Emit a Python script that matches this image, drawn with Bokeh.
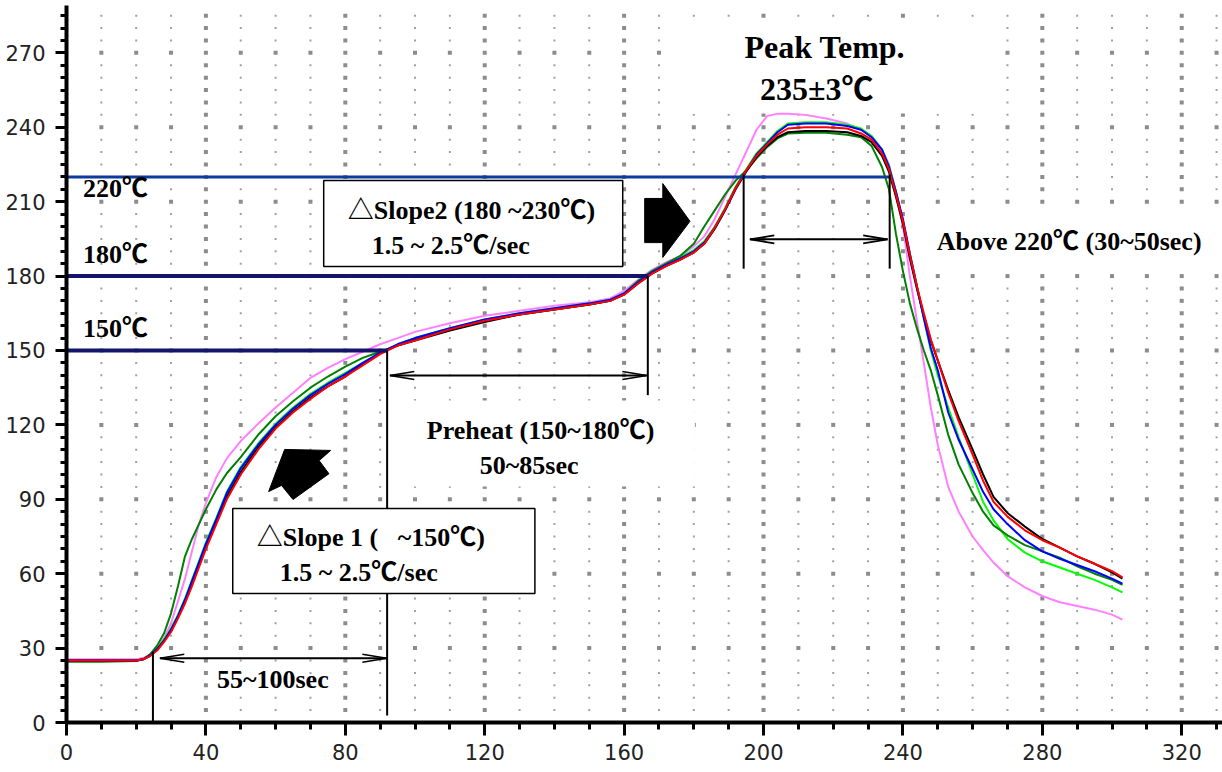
from bokeh.plotting import figure
from bokeh.models import Range1d, SingleIntervalTicker
from bokeh.core.properties import value
from bokeh.embed import file_html
from bokeh.resources import INLINE
import numpy as np

# ---- reflow temperature profiles (time in sec, temperature in degC) ----
t_sec = [0, 10, 20, 22, 24, 26, 28, 30, 32, 34,
         36, 38, 40, 43, 46, 50, 55, 60, 65, 70,
         75, 80, 85, 90, 95, 100, 110, 120, 130, 140,
         150, 156, 160, 164, 168, 172, 176, 180, 183, 186,
         189, 192, 195, 198, 201, 204, 207, 212, 218, 224,
         228, 231, 234, 236, 238, 240, 242, 244, 246, 248,
         250, 253, 256, 260, 263, 266, 270, 275, 280, 285,
         290, 295, 300, 303]

temp_black = [25, 25, 25, 25.5, 27, 29.5, 33, 37, 42.5, 49,
              56, 63.5, 71, 81, 91, 101, 111, 119, 125.5, 131,
              135.5, 139.5, 144.5, 149, 152, 154, 158, 161.5, 164.5, 166.5,
              168.5, 170, 172.5, 177, 181, 184, 186.5, 189.5, 193, 199,
              206.5, 215, 222, 228, 232.5, 236, 238, 238.5, 238.5, 238,
              236.5, 234, 228.5, 222, 212, 201, 187, 175, 164, 154,
              146, 134, 123, 110, 100, 91, 84.5, 79, 74, 70.5,
              67, 64, 60.5, 58]

temp_red = [25, 25, 25, 25.5, 26.8, 29, 32.5, 36.5, 42, 48,
            55, 62.5, 70, 80, 90, 100, 110, 118.5, 125, 130.5,
            135.5, 139.5, 144, 148.5, 152, 154, 158.5, 162, 164.5, 166.5,
            168.5, 170, 172.5, 177, 181, 184, 186.5, 189.5, 193, 199.5,
            207, 215.5, 222.5, 228.5, 233, 237, 239.5, 240, 240, 239.5,
            237.5, 235, 229.5, 223, 213, 202, 188.5, 176, 165, 154.5,
            146, 133, 121.5, 108, 97.5, 89, 83, 77.5, 73.5, 70.5,
            67, 64, 61, 58.5]

temp_blue = [25, 25, 25, 25.5, 27, 29.5, 33, 37.5, 43, 49.5,
             57, 64.5, 72, 82, 92.5, 102.5, 112, 120, 126.5, 132,
             136.5, 140.5, 145, 149, 152.5, 155, 159, 162.5, 165, 167,
             169, 170.5, 173, 177.5, 181.5, 184.5, 187, 190, 193.5, 199.5,
             207, 215.5, 222.5, 229, 233.5, 238, 241, 241.5, 241.5, 240.5,
             239, 236, 231, 224, 214, 203, 189, 176, 163, 151,
             142, 125, 114, 102, 93, 86, 80, 73.5, 69, 66,
             63.5, 61, 58, 56]

temp_lime = [25, 25, 25, 25.5, 27.2, 30, 33.5, 38, 43.5, 50,
             57.5, 65, 72.5, 82.5, 93, 103, 112.5, 120.5, 127, 132.5,
             137, 141, 145, 149, 152.5, 155, 159, 162.5, 165, 167,
             169, 170.5, 173, 178, 182, 185, 187.5, 190.5, 194, 200,
             207.5, 216, 223, 229.5, 234, 238.5, 241.5, 242, 242, 241,
             239.5, 236.5, 231, 224.5, 214, 202, 189, 176, 163, 150,
             140, 127, 115, 100, 89, 81.5, 74, 68.5, 65, 62.5,
             60, 57.5, 54.5, 52.5]

temp_green = [24.5, 24.5, 24.8, 25.5, 27.5, 31, 36, 44, 55, 67,
              74, 80, 86, 94, 100.5, 107, 116, 123.5, 129.5, 135,
              139.5, 143.5, 147, 149.5, 152, 154.5, 158.5, 162, 164.5, 166.5,
              168.5, 170, 173, 178, 182, 185, 188, 193, 200, 206.5,
              213, 218.5, 222.5, 227.5, 232, 235.5, 237.5, 237.8, 237.8, 237,
              236, 232.5, 224, 215, 197, 182, 169, 159, 150, 142,
              132, 116, 104, 92.5, 85, 79.5, 75.5, 71.5, 69, 66.5,
              63, 60, 57.5, 55.5]

temp_pink = [25.5, 25.5, 25.5, 26, 27.5, 30, 34, 40, 49, 58,
             69, 80, 88.5, 99, 106.5, 113.5, 120.5, 127, 133, 139,
             143, 146.5, 149.5, 152.5, 155, 157.5, 161, 164, 166, 168,
             169.5, 171, 174, 178.5, 182.5, 185.5, 188, 192, 196, 203,
             212, 221, 230, 239, 244.5, 245.5, 245.5, 245, 243.5, 241.5,
             239, 236.5, 231, 225, 214, 200, 180, 162, 145, 127,
             112, 95, 85, 75, 69.5, 64.5, 59, 54.5, 51, 48.5,
             47, 45.5, 43.5, 41.5]

# drawing order: bottom to top
series = [
    (temp_pink, "#FF80FF"),
    (temp_lime, "#00FF00"),
    (temp_green, "#008000"),
    (temp_black, "#000000"),
    (temp_blue, "#0000FF"),
    (temp_red, "#FF0000"),
]

# ---- axes ----
x_max = 331.7
y_max = 289.1
x_tick_step, x_minor = 40, 4
y_tick_step, y_minor = 30, 6

# ---- process limits ----
level_220 = 220
level_180 = 180
level_150 = 150
t_preheat_start = 92.0
t_preheat_end = 166.8
t_above_start = 194.3
t_above_end = 236.2
t_ramp_start = 24.8

serif = value("Liberation Serif, Noto Sans CJK JP")

p = figure(width=1222, height=772, output_backend="svg", toolbar_location=None,
           x_range=Range1d(0, x_max), y_range=Range1d(0, y_max),
           min_border_left=66, min_border_right=0, min_border_top=5,
           min_border_bottom=50)
p.outline_line_color = None
p.background_fill_color = "white"
p.border_fill_color = "white"
p.xgrid.grid_line_color = None
p.ygrid.grid_line_color = None

for ax, step, nm, tick_out, minor_out, standoff in (
        (p.xaxis, x_tick_step, x_minor, 13, 7, 8),
        (p.yaxis, y_tick_step, y_minor, 11, 6, 10)):
    ax.ticker = SingleIntervalTicker(interval=step, num_minor_ticks=nm)
    ax.axis_line_width = 4
    ax.axis_line_color = "black"
    ax.major_tick_line_width = 3
    ax.minor_tick_line_width = 3
    ax.major_tick_line_color = "black"
    ax.minor_tick_line_color = "black"
    ax.major_tick_in = 0
    ax.minor_tick_in = 0
    ax.major_tick_out = tick_out
    ax.minor_tick_out = minor_out
    ax.major_label_text_font = "DejaVu Sans"
    ax.major_label_text_font_size = "21px"
    ax.major_label_text_color = "#222222"
    ax.major_label_standoff = standoff

# ---- dotted grid: fine dots every 10 s / 5 degC, heavy dots on major lines ----
gx, gy = np.meshgrid(np.arange(10, 331, 10), np.arange(5, 289, 5))
gx = gx.ravel()
gy = gy.ravel()
heavy = (gx % 40 == 0) | (gy % 30 == 0)
p.scatter(gx[~heavy], gy[~heavy], marker="square", size=2,
          fill_color="#a0a0a0", line_color=None)
p.scatter(gx[heavy], gy[heavy], marker="square", size=4,
          fill_color="#8c8c8c", line_color=None)

# ---- white label backgrounds ----
p.quad(left=[179.2, 97.7, 244.3], right=[268.7, 180.3, 331.7],
       bottom=[245.6, 95.2, 184.0], top=[283.9, 129.8, 206.5],
       fill_color="white", line_color=None)

# ---- temperature curves ----
for temps, color in series:
    p.line(t_sec, temps, line_color=color, line_width=2)

# ---- limit levels ----
p.line([0, t_above_end], [level_220, level_220], line_color="#0B3C9C", line_width=3)
p.line([0, t_preheat_end], [level_180, level_180], line_color="#14146E", line_width=4)
p.line([0, t_preheat_start], [level_150, level_150], line_color="#14146E", line_width=4)

# ---- time markers ----
p.segment(x0=[t_ramp_start, t_preheat_start, t_preheat_end, t_above_start, t_above_end],
          y0=[0.5, 2.8, 132, 183, 183],
          x1=[t_ramp_start, t_preheat_start, t_preheat_end, t_above_start, t_above_end],
          y1=[28.5, level_150, level_180, 221, 221],
          line_color="black", line_width=2)

# double-headed duration arrows
spans = [(26.8, 91.9, 25.9), (92.8, 166.5, 139.9), (196.1, 235.6, 194.8)]
head_len, head_half = 7.0, 1.6
for x0, x1, yy in spans:
    p.line([x0, x1], [yy, yy], line_color="black", line_width=2)
    p.multi_line(xs=[[x0 + head_len, x0, x0 + head_len], [x1 - head_len, x1, x1 - head_len]],
                 ys=[[yy + head_half, yy, yy - head_half], [yy + head_half, yy, yy - head_half]],
                 line_color="black", line_width=1.6)

# ---- callout boxes ----
p.quad(left=[73.8, 47.7], right=[159.6, 134.4], bottom=[183.9, 52.0], top=[218.5, 86.3],
       fill_color="white", line_color="black", line_width=1.5)

# block arrows
p.patch([165.9, 171.1, 171.1, 178.9, 171.1, 171.1, 165.9],
        [211.3, 211.3, 217.3, 202.1, 187.5, 193.5, 193.5],
        fill_color="black", line_color="black")
p.patch([62.6, 75.8, 72.5, 75.3, 65.0, 61.7, 58.0],
        [110.1, 109.7, 105.6, 100.3, 89.9, 95.6, 93.1],
        fill_color="black", line_color="black")

# ---- labels ----
def label(x, y, text, size="26px", align="left"):
    p.text([x], [y], text=[text], text_font=serif, text_font_style="bold",
           text_font_size=size, text_align=align, text_baseline="middle",
           text_color="black")

label(4.7, 215.5, "220℃")
label(4.7, 188.7, "180℃")
label(4.7, 158.9, "150℃")
label(217.6, 272.2, "Peak Temp.", size="32px", align="center")
label(215.3, 255.6, "235±3℃", size="32px", align="center")
label(80.7, 206.5, "△Slope2 (180 ~230℃)")
label(87.6, 192.3, "1.5 ~ 2.5℃/sec")
label(54.6, 74.6, "△Slope 1 (\u00a0\u00a0 ~150℃)")
label(61.2, 60.5, "1.5 ~ 2.5℃/sec")
label(103.4, 117.7, "Preheat (150~180℃)")
label(118.6, 103.6, "50~85sec")
label(59.2, 17.3, "55~100sec", align="center")
label(249.7, 194.0, "Above 220℃ (30~50sec)")

open("out.html", "w").write(file_html(p, INLINE))
